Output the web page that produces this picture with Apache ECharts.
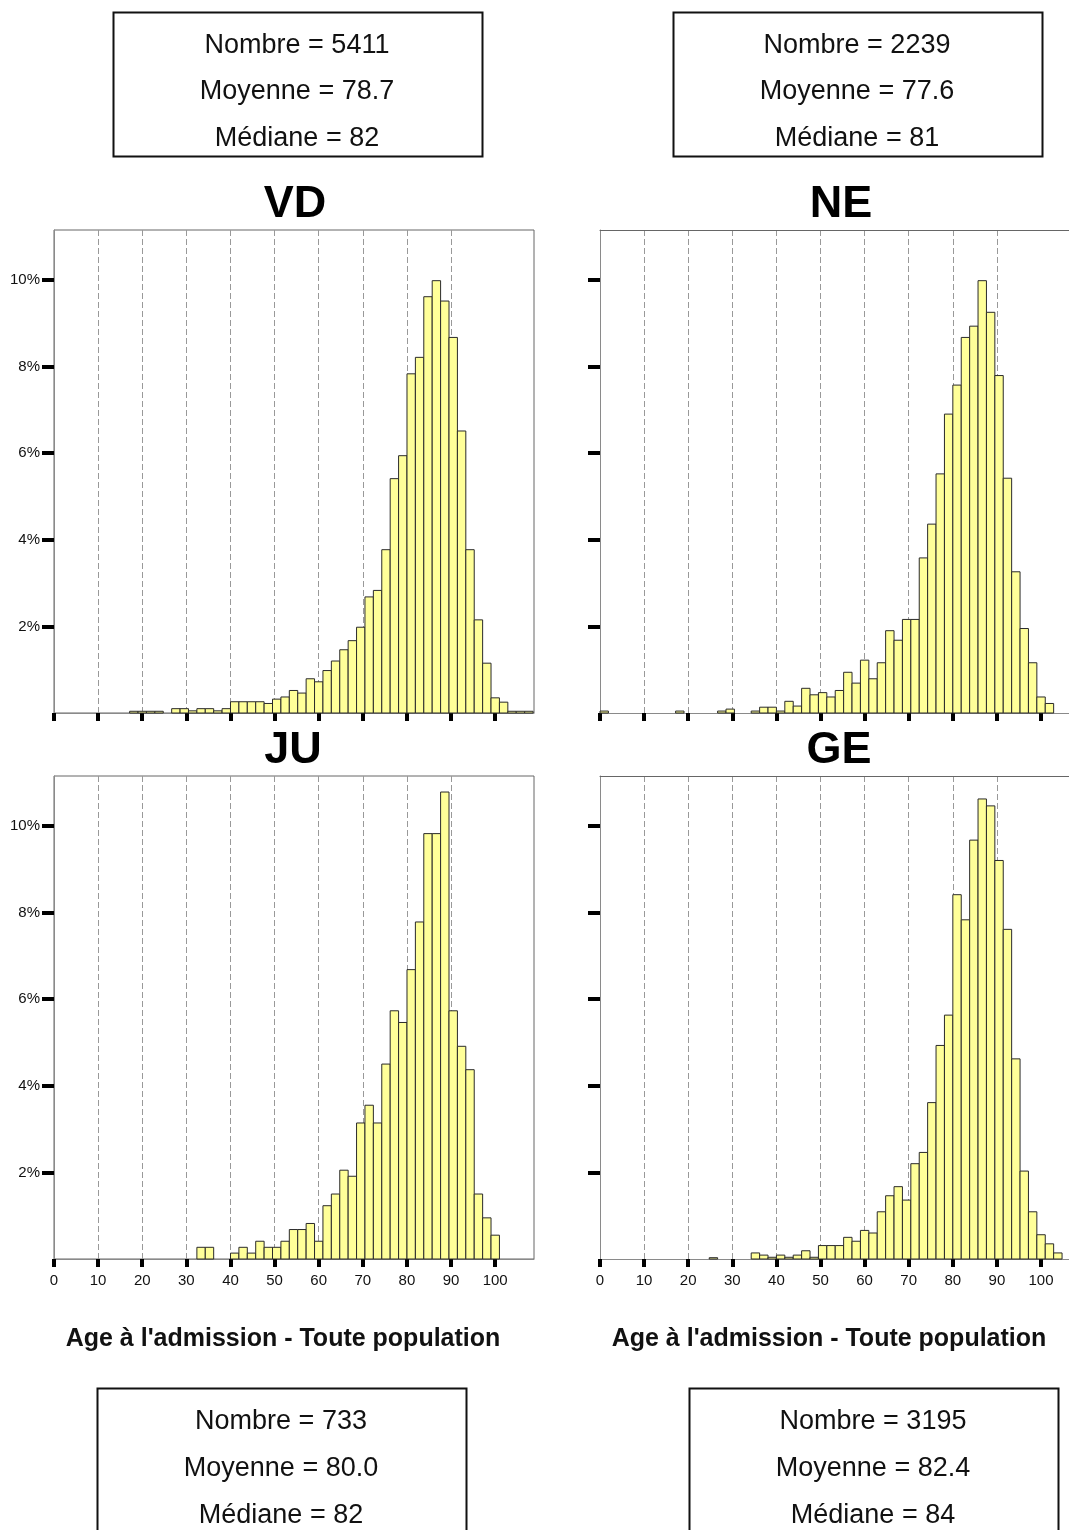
<!DOCTYPE html>
<html>
<head>
<meta charset="utf-8">
<title>Age à l'admission</title>
<script src="https://cdn.jsdelivr.net/npm/echarts@6/dist/echarts.min.js"></script>
<style>
html,body{margin:0;padding:0;background:#fff;}
#chart{width:1069px;height:1530px;}
</style>
</head>
<body>
<div id="chart"></div>
<script>
//largeur d'une classe de l'histogramme (années)
var binWidth = 1.905;

//valeurs en % par classe, à partir de la classe de départ
var vdStart = 9;
var vdValues = [0.04,0.04,0.04,0.04,0,0.1,0.1,0.05,0.1,0.1,0.05,0.1,0.26,0.26,0.26,0.26,0.22,0.32,0.37,0.52,0.46,0.79,0.72,0.98,1.2,1.46,1.67,1.98,2.68,2.83,3.77,5.41,5.94,7.83,8.21,9.61,9.98,9.51,8.67,6.51,3.77,2.15,1.15,0.35,0.25,0.04,0.04,0.04];

var neStart = 0;
var neValues = [0.045,0,0,0,0,0,0,0,0,0.045,0,0,0,0,0.045,0.09,0,0,0.045,0.134,0.134,0.045,0.27,0.16,0.57,0.42,0.47,0.37,0.52,0.94,0.69,1.22,0.79,1.16,1.9,1.68,2.16,2.16,3.58,4.36,5.52,6.9,7.57,8.67,8.93,9.98,9.25,7.79,5.42,3.26,1.95,1.16,0.37,0.22];

var juStart = 17;
var juValues = [0.27,0.27,0,0,0.136,0.27,0.136,0.41,0.27,0.27,0.41,0.68,0.68,0.82,0.41,1.23,1.5,2.05,1.91,3.14,3.55,3.14,4.5,5.73,5.46,6.68,7.78,9.82,9.82,10.78,5.73,4.91,4.37,1.5,0.95,0.55];

var geStart = 13;
var geValues = [0.03,0,0,0,0,0.14,0.09,0.04,0.09,0.04,0.09,0.19,0.04,0.31,0.31,0.31,0.5,0.41,0.66,0.6,1.09,1.46,1.67,1.36,2.2,2.46,3.61,4.93,5.63,8.41,7.83,9.67,10.62,10.46,9.2,7.61,4.62,2.03,1.09,0.56,0.35,0.14];

//graduations
var xTicks = [0,10,20,30,40,50,60,70,80,90,100];
var yTicks = [2,4,6,8,10];

//statistiques
var panelNames = ['VD','NE','JU','GE'];
var statNombre = [5411,2239,733,3195];
var statMoyenne = ['78.7','77.6','80.0','82.4'];
var statMediane = [82,81,82,84];

var axisTitle = "Age à l'admission - Toute population";
var FONT = 'Liberation Sans, Arial, Helvetica, sans-serif';

var myChart = echarts.init(document.getElementById('chart'), null, {renderer:'canvas'});

//transformer les valeurs en [debut, fin, valeur]
function build_bins(start, values)
{
	var out = [];
	for(var i=0;i<values.length;i++){
		var k = start + i;
		out.push([k*binWidth, (k+1)*binWidth, values[i]]);
	}
	return out;
}

function render_bar(params, api)
{
	var v = api.value(2);
	if(!v) return null;
	var p0 = api.coord([api.value(0), v]);
	var p1 = api.coord([api.value(1), 0]);
	return {
		type: 'rect',
		shape: {x: p0[0], y: p0[1], width: p1[0]-p0[0], height: p1[1]-p0[1]},
		style: {fill: '#ffff99', stroke: '#2a2a2a', lineWidth: 1}
	};
}

//positions des panneaux (les panneaux de droite sont coupés au bord de l'image)
var gridPos = [
	{left: 54, top: 230, width: 480, xmax: 108.8, frame: true},
	{left: 600, top: 230, width: 469, xmax: 106.35, frame: false},
	{left: 54, top: 776, width: 480, xmax: 108.8, frame: true},
	{left: 600, top: 776, width: 469, xmax: 106.35, frame: false}
];
var allData = [build_bins(vdStart, vdValues), build_bins(neStart, neValues), build_bins(juStart, juValues), build_bins(geStart, geValues)];

var grids = [], xAxes = [], yAxes = [], series = [];
for(var i=0;i<4;i++){
	var g = gridPos[i];
	grids.push({
		left: g.left, top: g.top, width: g.width, height: 483,
		show: g.frame, borderColor: '#666', borderWidth: 1, backgroundColor: '#fff'
	});
	xAxes.push({
		gridIndex: i, type: 'value', min: 0, max: g.xmax, interval: 10,
		axisLine: {show: true, lineStyle: {color: '#8a8a8a', width: 1}},
		axisTick: {show: true, customValues: xTicks, length: 8, lineStyle: {color: '#000', width: 4}},
		axisLabel: {
			show: i >= 2, customValues: xTicks, margin: 14,
			fontFamily: FONT, fontSize: 15, color: '#111'
		},
		splitLine: {show: true, showMinLine: false, showMaxLine: false, lineStyle: {color: '#999', type: [6,3], width: 1}}
	});
	yAxes.push({
		gridIndex: i, type: 'value', min: 0, max: 11.15, interval: 2,
		axisLine: {show: true, lineStyle: {color: '#8a8a8a', width: 1}},
		axisTick: {show: true, customValues: yTicks, length: 12, lineStyle: {color: '#000', width: 4}},
		axisLabel: {
			show: i % 2 === 0, customValues: yTicks, margin: 14,
			fontFamily: FONT, fontSize: 15, color: '#111',
			formatter: function(v){ return v + '%'; }
		},
		splitLine: {show: false}
	});
	series.push({
		type: 'custom', xAxisIndex: i, yAxisIndex: i,
		renderItem: render_bar, encode: {x: [0,1], y: 2},
		data: allData[i], silent: true, z: 5
	});
}
//bord supérieur des panneaux de droite
for(var i=1;i<4;i+=2){
	xAxes.push({
		gridIndex: i, type: 'value', position: 'top', min: 0, max: gridPos[i].xmax,
		axisLine: {show: true, onZero: false, lineStyle: {color: '#666', width: 1}},
		axisTick: {show: false}, axisLabel: {show: false}, splitLine: {show: false}
	});
}

//boites de statistiques et titres
var boxPos = [
	{x: 113, y: 12, cx: 297, ty: [46,92,139]},
	{x: 673, y: 12, cx: 857, ty: [46,92,139]},
	{x: 97, y: 1388, cx: 281, ty: [1422,1469,1516]},
	{x: 689, y: 1388, cx: 873, ty: [1422,1469,1516]}
];
var titlePos = [[295,205],[841,205],[293,751],[839,751]];
var graphics = [];
for(var i=0;i<4;i++){
	var b = boxPos[i];
	graphics.push({
		type: 'rect', z: 10,
		shape: {x: b.x + 0.5, y: b.y + 0.5, width: 369, height: i < 2 ? 144 : 170},
		style: {fill: '#fff', stroke: '#111', lineWidth: 2}
	});
	var lines = ['Nombre = ' + statNombre[i], 'Moyenne = ' + statMoyenne[i], 'Médiane = ' + statMediane[i]];
	for(var j=0;j<3;j++){
		graphics.push({
			type: 'text', z: 11, x: b.cx, y: b.ty[j],
			style: {text: lines[j], fontFamily: FONT, fontSize: 27, fill: '#111', align: 'center', verticalAlign: 'middle'}
		});
	}
	graphics.push({
		type: 'text', z: 11, x: titlePos[i][0], y: titlePos[i][1],
		style: {text: panelNames[i], fontFamily: FONT, fontSize: 45, fontWeight: 'bold', fill: '#000', align: 'center', verticalAlign: 'middle'}
	});
}
graphics.push({
	type: 'text', z: 11, x: 283, y: 1339,
	style: {text: axisTitle, fontFamily: FONT, fontSize: 25, fontWeight: 'bold', fill: '#111', align: 'center', verticalAlign: 'middle'}
});
graphics.push({
	type: 'text', z: 11, x: 829, y: 1339,
	style: {text: axisTitle, fontFamily: FONT, fontSize: 25, fontWeight: 'bold', fill: '#111', align: 'center', verticalAlign: 'middle'}
});

myChart.setOption({
	animation: false,
	backgroundColor: '#fff',
	grid: grids,
	xAxis: xAxes,
	yAxis: yAxes,
	series: series,
	graphic: graphics
});
</script>
</body>
</html>
